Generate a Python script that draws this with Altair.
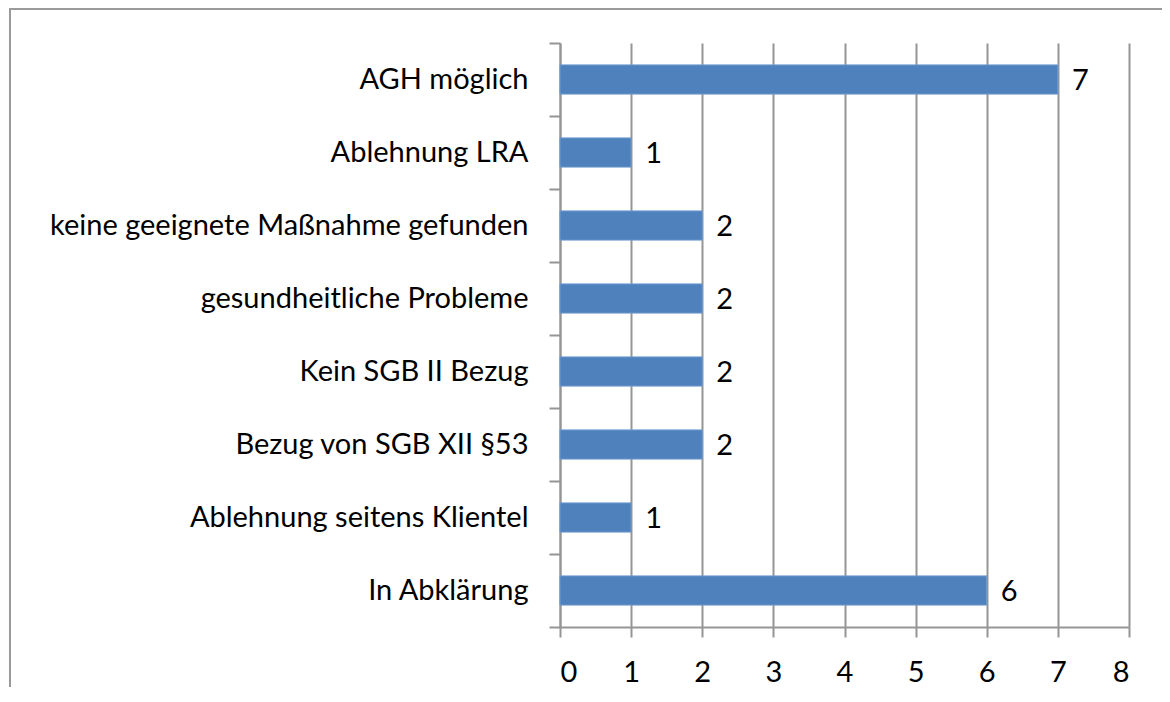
import altair as alt
import pandas as pd

categories = [
    "AGH möglich",
    "Ablehnung LRA",
    "keine geeignete Maßnahme gefunden",
    "gesundheitliche Probleme",
    "Kein SGB II Bezug",
    "Bezug von SGB XII §53",
    "Ablehnung seitens Klientel",
    "In Abklärung",
]
values = [7, 1, 2, 2, 2, 2, 1, 6]
x_ticks = [0, 1, 2, 3, 4, 5, 6, 7, 8]

df = pd.DataFrame({"cat": categories, "val": values})
frame_df = pd.DataFrame({"a": [0]})

FONT = "Lato"
GRAY = "#959595"

y_enc = alt.Y(
    "cat:N",
    sort=categories,
    scale=alt.Scale(paddingInner=0, paddingOuter=0),
    axis=alt.Axis(
        title=None,
        labelFont=FONT,
        labelFontSize=29,
        labelColor="#000000",
        labelPadding=21,
        labelLimit=600,
        tickSize=11,
        tickColor=GRAY,
        tickWidth=2,
        tickBand="extent",
        domainColor=GRAY,
        domainWidth=2,
        grid=False,
    ),
)
x_enc = alt.X(
    "val:Q",
    scale=alt.Scale(domain=[0, 8], nice=False),
    axis=alt.Axis(
        title=None,
        values=x_ticks,
        format="d",
        labelFont=FONT,
        labelFontSize=29,
        labelColor="#000000",
        labelPadding=21,
        tickSize=10,
        tickColor=GRAY,
        tickWidth=2,
        domainColor=GRAY,
        domainWidth=2,
        grid=True,
        gridColor=GRAY,
        gridWidth=2,
        gridOpacity=1,
    ),
)

bars = alt.Chart(df).mark_bar(
    color="#4F81BD", stroke="#6F9BD0", strokeWidth=1, height=alt.RelativeBandSize(0.4)
).encode(x=x_enc, y=y_enc)
labels = alt.Chart(df).mark_text(
    align="left", baseline="middle", dx=14, dy=1, font=FONT, fontSize=29, color="#000000"
).encode(x="val:Q", y=alt.Y("cat:N", sort=categories), text="val:Q")

frame_top = alt.Chart(frame_df).mark_rule(color="#9a9a9a", strokeWidth=2).encode(
    x=alt.value(-551), x2=alt.value(605), y=alt.value(-34)
)
frame_left = alt.Chart(frame_df).mark_rule(color="#9a9a9a", strokeWidth=2).encode(
    x=alt.value(-550), y=alt.value(-34), y2=alt.value(650)
)

chart = (
    alt.layer(frame_top, frame_left, bars, labels)
    .properties(
        width=569,
        height=584,
        autosize=alt.AutoSizeParams(type="none"),
        padding={"left": 552, "top": 35, "right": 33, "bottom": 60},
        background="white",
    )
    .configure_view(stroke=None)
)

chart.save("out.html", embed_options={"renderer": "svg", "actions": False})
